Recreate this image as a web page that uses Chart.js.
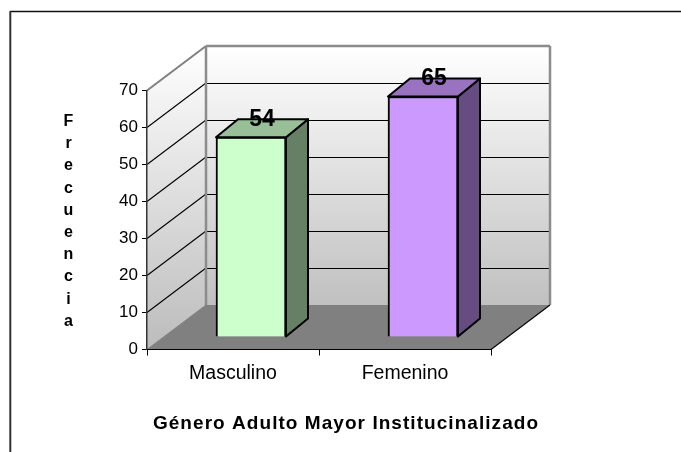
<!DOCTYPE html>
<html><head><meta charset="utf-8">
<style>html,body{margin:0;padding:0;background:#fff}canvas{display:block}</style>
<script src="https://cdn.jsdelivr.net/npm/chart.js@4"></script></head>
<body><div style="width:681px;height:452px"><canvas id="c" width="681" height="452"></canvas></div>
<script>
const categories = ["Masculino", "Femenino"];
const values = [54, 65];
const yTicks = [0, 10, 20, 30, 40, 50, 60, 70];
const yTitle = "Frecuencia";
const xTitle = "Género Adulto Mayor Institucinalizado";
const frontColors = ["#CCFFCC", "#CC99FF"];
const topColors = ["#99BF99", "#9973BF"];
const sideColors = ["#668066", "#664C80"];

const FONT = '"Liberation Sans", Arial, sans-serif';
const WALL = {dx: 59, dy: -44.5};
const BAR = {dx: 18, dy: -12.5, ddx: 22, ddy: -18};

function poly(ctx, pts, fill, stroke, lw) {
  ctx.beginPath();
  pts.forEach((p, i) => i ? ctx.lineTo(p[0], p[1]) : ctx.moveTo(p[0], p[1]));
  ctx.closePath();
  if (fill) { ctx.fillStyle = fill; ctx.fill(); }
  if (stroke) { ctx.strokeStyle = stroke; ctx.lineWidth = lw; ctx.lineJoin = 'round'; ctx.stroke(); }
}
function line(ctx, x1, y1, x2, y2, c, w) {
  ctx.beginPath(); ctx.moveTo(x1, y1); ctx.lineTo(x2, y2);
  ctx.strokeStyle = c; ctx.lineWidth = w; ctx.stroke();
}

const scene = {
  id: 'scene',
  beforeDraw(chart) {
    const {ctx, chartArea: a, scales: {y}} = chart;
    const L = a.left, R = a.right, T = y.getPixelForValue(70), B = y.getPixelForValue(0);
    const dx = WALL.dx, dy = WALL.dy;
    ctx.save();
    ctx.fillStyle = '#fff'; ctx.fillRect(0, 0, chart.width, chart.height);
    // outer frame
    line(ctx, 10, 11.5, 681, 11.5, '#111', 1.4);
    line(ctx, 10.3, 11, 10.3, 452, '#333', 2);
    // walls
    const g = ctx.createLinearGradient(0, T + dy, 0, B + dy);
    g.addColorStop(0, '#ffffff'); g.addColorStop(1, '#c0c0c0');
    poly(ctx, [[L + dx, T + dy], [R + dx, T + dy], [R + dx, B + dy], [L + dx, B + dy]], g);
    const g2 = ctx.createLinearGradient(0, T + dy, 0, B);
    g2.addColorStop(0, '#ffffff'); g2.addColorStop(1, '#bcbcbc');
    poly(ctx, [[L, T], [L + dx, T + dy], [L + dx, B + dy], [L, B]], g2);
    poly(ctx, [[L, B], [L + dx, B + dy], [R + dx, B + dy], [R, B]], '#808080');
    // gridlines
    yTicks.forEach(v => {
      const p = y.getPixelForValue(v);
      if (v > 0 && v < 70) {
        line(ctx, L, p, L + dx, p + dy, '#000', 1.1);
        line(ctx, L + dx, Math.round(p + dy) + .5, R + dx, Math.round(p + dy) + .5, '#000', 1);
      }
    });
    // wall border
    ctx.lineCap = 'butt';
    line(ctx, L, T, L + dx, T + dy, '#808080', 2);
    line(ctx, L + dx, T + dy, R + dx, T + dy, '#8c8c8c', 2.5);
    line(ctx, L + dx, T + dy, L + dx, B + dy, '#8c8c8c', 2.5);
    line(ctx, R + dx, T + dy, R + dx, B + dy, '#8c8c8c', 2.5);
    line(ctx, L, B, L + dx, B + dy, '#808080', 1);
    line(ctx, R, B, R + dx, B + dy, '#000', 1.1);
    ctx.restore();
  },
  beforeDatasetDraw(chart) {
    chart.ctx.save();
    chart.ctx.translate(BAR.dx, BAR.dy);
  },
  afterDatasetDraw(chart, args) {
    const ctx = chart.ctx;
    const meta = chart.getDatasetMeta(args.index);
    const d = {x: BAR.ddx, y: BAR.ddy};
    meta.data.forEach((el, i) => {
      const l = el.x - el.width / 2, r = el.x + el.width / 2, t = el.y, b = el.base;
      poly(ctx, [[r, t], [r + d.x, t + d.y], [r + d.x, b + d.y], [r, b]], sideColors[i], '#000', 2);
      poly(ctx, [[l, t], [l + d.x, t + d.y], [r + d.x, t + d.y], [r, t]], topColors[i], '#000', 2);
    });
    ctx.fillStyle = '#000';
    ctx.font = 'bold 23px ' + FONT;
    ctx.textAlign = 'center'; ctx.textBaseline = 'middle';
    meta.data.forEach((el, i) => {
      ctx.fillText(String(values[i]), el.x + 11, el.y - 18);
    });
    ctx.restore();
  },
  afterDraw(chart) {
    const ctx = chart.ctx;
    ctx.save();
    ctx.fillStyle = '#000';
    ctx.textAlign = 'center'; ctx.textBaseline = 'middle';
    ctx.font = 'bold 16px ' + FONT;
    [...yTitle].forEach((ch, i) => ctx.fillText(ch, 68.5, 121.5 + i * 22.2));
    ctx.font = 'bold 19px ' + FONT;
    ctx.letterSpacing = '1.05px';
    ctx.fillText(xTitle, 346, 424);
    ctx.restore();
  }
};

new Chart(document.getElementById('c'), {
  type: 'bar',
  data: {
    labels: categories,
    datasets: [{
      data: values,
      backgroundColor: frontColors,
      borderColor: '#000',
      borderWidth: 2,
      barThickness: 70,
      clip: false
    }]
  },
  plugins: [scene],
  options: {
    responsive: false,
    animation: false,
    events: [],
    layout: {padding: {top: 90.5, right: 190, left: 0, bottom: 0}},
    plugins: {legend: {display: false}, title: {display: false}, tooltip: {enabled: false}},
    scales: {
      x: {
        afterFit(s) { s.height = 102.5; },
        grid: {drawOnChartArea: false, color: '#000', tickLength: 6},
        border: {display: true, color: '#000', width: 1},
        ticks: {color: '#000', font: {family: FONT, size: 19.5}, padding: 6, maxRotation: 0}
      },
      y: {
        min: 0, max: 70,
        afterFit(s) { s.width = 147; },
        afterBuildTicks(s) { s.ticks = yTicks.map(v => ({value: v})); },
        grid: {drawOnChartArea: false, color: '#000', tickLength: 5},
        border: {display: true, color: '#333', width: 1.5},
        ticks: {color: '#000', font: {family: FONT, size: 17}, padding: 4}
      }
    }
  }
});
</script></body></html>
